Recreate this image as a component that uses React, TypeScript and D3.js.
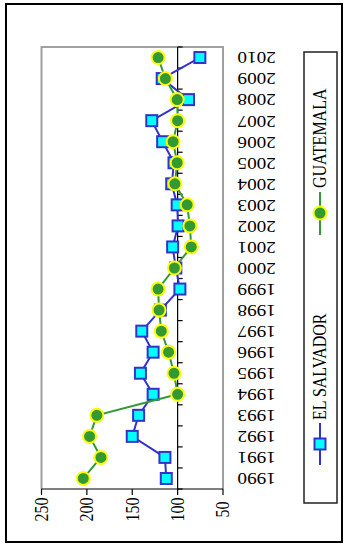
import React from "react";
import * as d3 from "d3";

const years = ["1990","1991","1992","1993","1994","1995","1996","1997","1998","1999","2000","2001","2002","2003","2004","2005","2006","2007","2008","2009","2010"];
const elSalvador = [112.5,114,150,143,127,141,127,139.5,119,97.5,102,105.5,99.5,100.5,106.5,104,116.5,128.5,88,117,75.5];
const guatemala = [204,184.5,197,189,100,104,110,118,120.5,121.5,103.5,85,86.5,89.5,103,100.5,105,100,100.5,113.5,121.5];
const valueTicks = [250,200,150,100,50];
const seriesNames = ["EL SALVADOR","GUATEMALA"];

const W = 348, H = 548;
const plot = { left: 41.5, right: 223, top: 47, bottom: 489 };
const FONT = "'Liberation Serif', 'Times New Roman', serif";
const SX = 1.2;

export default function App() {
  const x = d3.scaleLinear().domain([50, 250]).range([plot.right, plot.left]);
  const y = d3.scaleBand().domain(years).range([plot.bottom, plot.top]).padding(0);
  const bw = y.bandwidth();
  const cy = (yr: string) => (y(yr) as number) + bw / 2;
  const axisX = x(100);

  const line = d3.line<number>()
    .x((d) => x(d))
    .y((_, i) => cy(years[i]));

  const boundaries = d3.range(years.length + 1).map((i) => plot.bottom - i * bw);

  const txt = (tx: number, ty: number, rot: number) =>
    `translate(${tx},${ty}) scale(${SX},1) rotate(${rot})`;

  return (
    <svg width={W} height={H} style={{ position: "absolute", left: 0, top: 0, background: "#fff" }}>
      <rect x={6} y={4} width={336} height={538} fill="#fff" stroke="#000" strokeWidth={2} />
      {/* plot area frame */}
      <path d={`M${plot.left},${plot.bottom} V${plot.top} H${plot.right} V${plot.bottom}`} fill="none" stroke="#a0a0a0" strokeWidth={2} />
      {/* value axis */}
      <line x1={plot.left} x2={plot.right} y1={plot.bottom} y2={plot.bottom} stroke="#000" strokeWidth={1.2} />
      {valueTicks.map((v) => (
        <g key={v}>
          <line x1={x(v)} x2={x(v)} y1={plot.bottom} y2={plot.bottom + 6} stroke="#000" strokeWidth={1.2} />
          <text transform={txt(x(v), 509.5, -90)} textAnchor="middle" dy="0.33em" fontFamily={FONT} fontSize={16} fill="#000">{v}</text>
        </g>
      ))}
      {/* category axis */}
      <line x1={axisX} x2={axisX} y1={plot.top} y2={plot.bottom} stroke="#000" strokeWidth={1.2} />
      {boundaries.map((b, i) => (
        <line key={i} x1={axisX} x2={axisX + 5} y1={b} y2={b} stroke="#000" strokeWidth={1.2} />
      ))}
      {years.map((yr) => (
        <text key={yr} transform={txt(237.5, cy(yr), 180)} textAnchor="end" dy="0.32em" fontFamily={FONT} fontSize={16} fill="#000">{yr}</text>
      ))}
      {/* El Salvador */}
      <path d={line(elSalvador) || ""} fill="none" stroke="#3333cc" strokeWidth={2} />
      {elSalvador.map((v, i) => (
        <rect key={i} x={x(v) - 5.5} y={cy(years[i]) - 5.5} width={11} height={11} fill="#00ffff" stroke="#3333cc" strokeWidth={2} />
      ))}
      {/* Guatemala */}
      <path d={line(guatemala) || ""} fill="none" stroke="#339933" strokeWidth={2} />
      {guatemala.map((v, i) => (
        <circle key={i} cx={x(v)} cy={cy(years[i])} r={6.5} fill="#339933" stroke="#ffff00" strokeWidth={2} />
      ))}
      {/* legend */}
      <rect x={304} y={52} width={33} height={451} fill="#fff" stroke="#222" strokeWidth={1.5} />
      <line x1={320} x2={320} y1={423} y2={465} stroke="#3333cc" strokeWidth={2} />
      <rect x={314.5} y={438.5} width={11} height={11} fill="#00ffff" stroke="#3333cc" strokeWidth={2} />
      <text transform={txt(320, 420, -90)} textAnchor="start" dy="0.33em" fontFamily={FONT} fontSize={16} fill="#000">{seriesNames[0]}</text>
      <line x1={320} x2={320} y1={192} y2={235} stroke="#339933" strokeWidth={2} />
      <circle cx={320} cy={213} r={6.5} fill="#339933" stroke="#ffff00" strokeWidth={2} />
      <text transform={txt(320, 188, -90)} textAnchor="start" dy="0.33em" fontFamily={FONT} fontSize={16} fill="#000">{seriesNames[1]}</text>
    </svg>
  );
}
